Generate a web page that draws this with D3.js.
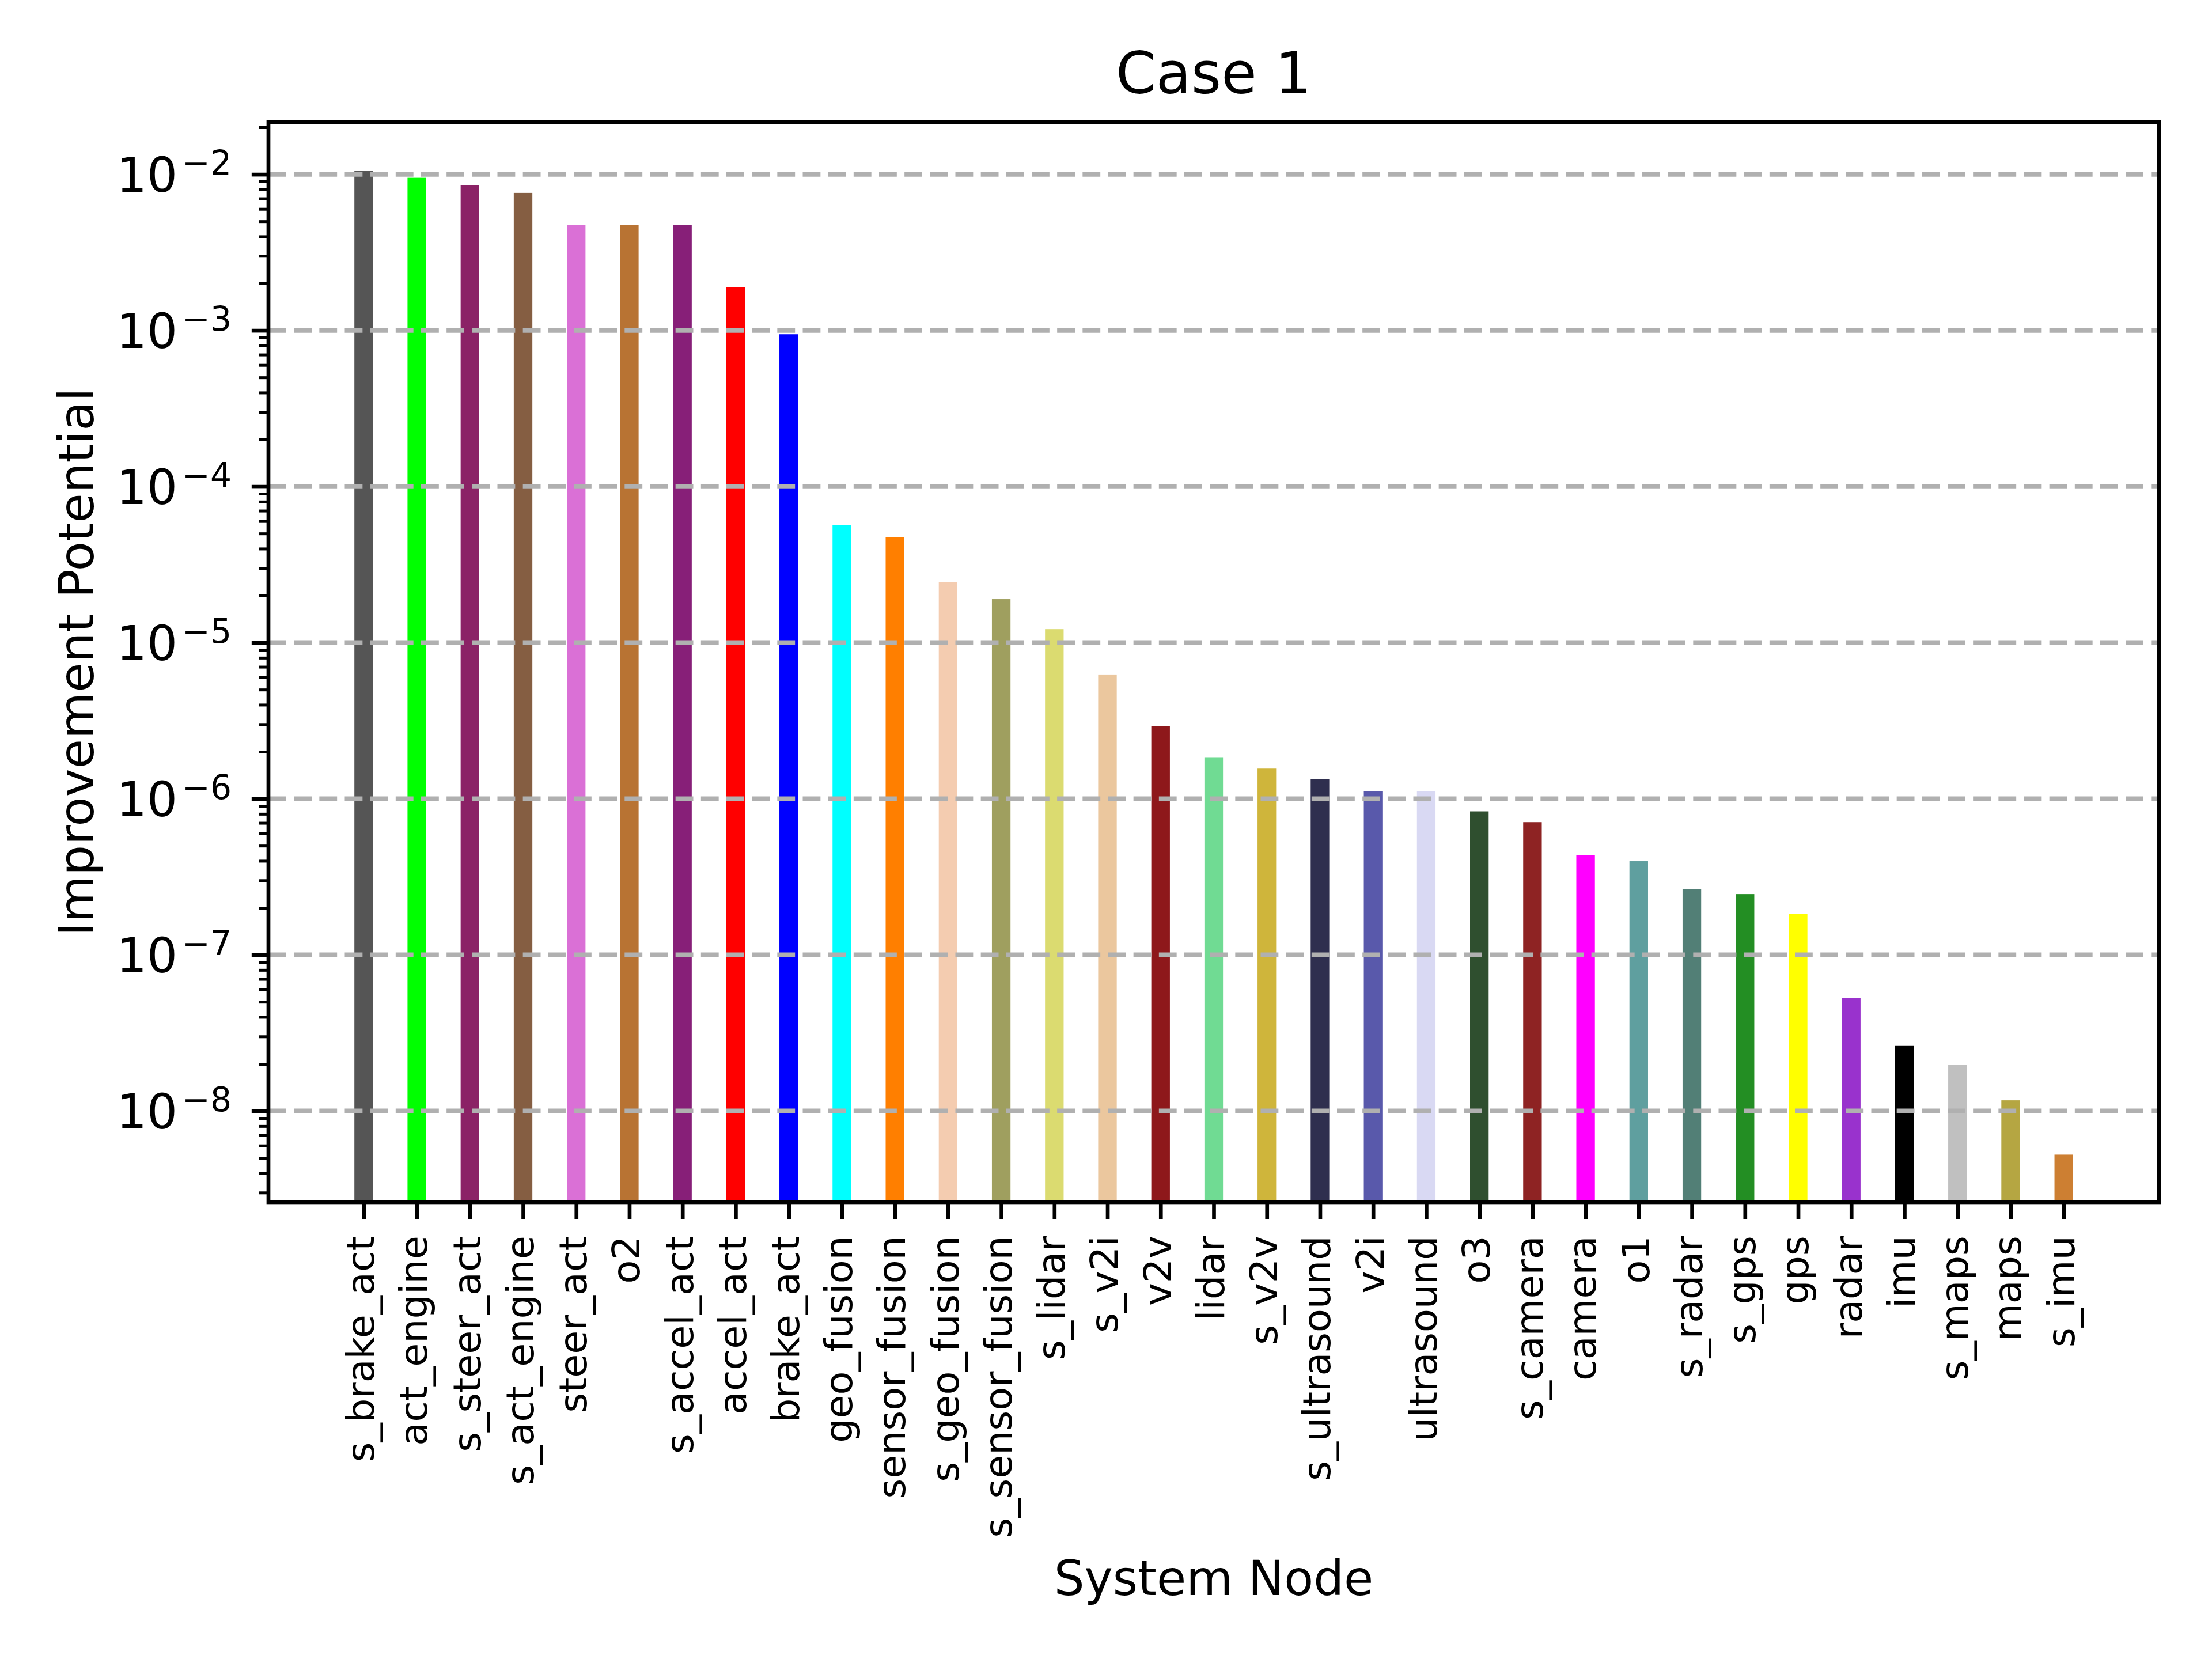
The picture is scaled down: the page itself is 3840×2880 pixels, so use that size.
<!DOCTYPE html>
<html>
<head>
<meta charset="utf-8">
<script src="https://cdn.jsdelivr.net/npm/d3@7"></script>
<style>
  body { margin: 0; background: #ffffff; }
  svg { display: block; font-family: "DejaVu Sans", sans-serif; }
</style>
</head>
<body>
<div id="chart"></div>
<script>
// Node names, in plotted order
const categories = [
    "s_brake_act", "act_engine", "s_steer_act", "s_act_engine", "steer_act", "o2",
    "s_accel_act", "accel_act", "brake_act", "geo_fusion", "sensor_fusion", "s_geo_fusion",
    "s_sensor_fusion", "s_lidar", "s_v2i", "v2v", "lidar", "s_v2v", "s_ultrasound", "v2i",
    "ultrasound", "o3", "s_camera", "camera", "o1", "s_radar", "s_gps", "gps", "radar",
    "imu", "s_maps", "maps", "s_imu"
];

// Improvement potential per node
const values = [
    1.05e-2, 9.5e-3, 8.55e-3, 7.6e-3, 4.72e-3, 4.72e-3,
    4.72e-3, 1.89e-3, 9.45e-4, 5.67e-5, 4.74e-5, 2.44e-5,
    1.9e-5, 1.22e-5, 6.25e-6, 2.91e-6, 1.83e-6, 1.56e-6, 1.34e-6, 1.12e-6,
    1.12e-6, 8.3e-7, 7.08e-7, 4.35e-7, 3.98e-7, 2.64e-7, 2.45e-7, 1.83e-7, 5.28e-8,
    2.63e-8, 1.98e-8, 1.17e-8, 5.25e-9
];

// One colour per bar
const barColors = [
    "#555555", "#00FF00", "#8B2266", "#855E42", "#DA70D6", "#B87333",
    "#871F78", "#FF0000", "#0000FF", "#00FFFF", "#FF7F00", "#F4CCB0",
    "#9F9F5F", "#DBDB70", "#EBC79E", "#8E181B", "#70DB93", "#CFB53B", "#2F2F4F", "#5959AB",
    "#D9D9F3", "#2F4F2F", "#8E2323", "#FF00FF", "#5F9F9F", "#527F76", "#238E23", "#FFFF00", "#9932CD",
    "#000000", "#C0C0C0", "#B5A642", "#CD7F32"
];

// Major y ticks (decade exponents)
const yExponents = [-8, -7, -6, -5, -4, -3, -2];

// Figure is 6.4 x 4.8 in at 600 dpi
const width = 3840;
const height = 2880;
const pt = 600 / 72;
const margin = { top: 212, right: 3840 - 3748, bottom: 2880 - 2087, left: 466 };
const plotW = width - margin.left - margin.right;
const plotH = height - margin.top - margin.bottom;

const svg = d3.select("#chart")
    .append("svg")
    .attr("width", width)
    .attr("height", height);

const g = svg.append("g")
    .attr("transform", `translate(${margin.left},${margin.top})`);

// Scales: bar index on x (matplotlib-style 5% margins), log on y
const barWidth = 0.35;
const n = categories.length;
const pad = 0.05 * (n - 1 + barWidth);
const x = d3.scaleLinear()
    .domain([-barWidth / 2 - pad, n - 1 + barWidth / 2 + pad])
    .range([0, plotW]);

const y = d3.scaleLog()
    .domain([2.603e-9, 2.159e-2])
    .range([plotH, 0]);

// Bars, running down to the bottom of the axes
g.append("g")
    .selectAll("rect")
    .data(values)
    .join("rect")
    .attr("x", (d, i) => x(i - barWidth / 2))
    .attr("width", x(barWidth) - x(0))
    .attr("y", d => y(d))
    .attr("height", d => plotH - y(d))
    .attr("fill", (d, i) => barColors[i]);

// Dashed horizontal grid at the decades, drawn over the bars
const majors = yExponents.map(e => Math.pow(10, e));
g.append("g")
    .selectAll("line")
    .data(majors)
    .join("line")
    .attr("x1", 0)
    .attr("x2", plotW)
    .attr("y1", d => y(d))
    .attr("y2", d => y(d))
    .attr("stroke", "#b0b0b0")
    .attr("stroke-width", 1 * pt)
    .attr("stroke-dasharray", `${3.7 * pt} ${1.6 * pt}`);

// Minor log ticks (2..9 in each decade that falls in range)
const minors = [];
for (let e = -9; e <= -2; e++) {
    for (let m = 2; m <= 9; m++) {
        const v = m * Math.pow(10, e);
        if (v >= y.domain()[0] && v <= y.domain()[1]) minors.push(v);
    }
}

const yMinor = g.append("g")
    .call(d3.axisLeft(y).tickValues(minors).tickSize(2 * pt).tickFormat(() => ""));
yMinor.select(".domain").remove();
yMinor.selectAll("line").attr("stroke", "#000").attr("stroke-width", 0.6 * pt);

const yMajor = g.append("g")
    .call(d3.axisLeft(y).tickValues(majors).tickSize(3.5 * pt).tickFormat(() => ""));
yMajor.select(".domain").remove();
yMajor.selectAll("line").attr("stroke", "#000").attr("stroke-width", 0.8 * pt);

// Y tick labels as 10 with a superscript exponent
const yLabelSize = 10 * pt;
const yLabels = g.append("g")
    .selectAll("text")
    .data(yExponents)
    .join("text")
    .attr("x", -64)
    .attr("y", e => y(Math.pow(10, e)) + 30)
    .attr("text-anchor", "end")
    .attr("fill", "#000")
    .style("font-size", `${yLabelSize}px`);

yLabels.append("tspan").text("10");
yLabels.append("tspan")
    .attr("dx", 8)
    .attr("dy", -30)
    .style("font-size", `${yLabelSize * 0.7}px`)
    .text(e => "\u2212" + Math.abs(e));

// X axis with rotated node names
const xAxis = g.append("g")
    .attr("transform", `translate(0,${plotH})`)
    .call(d3.axisBottom(x).tickValues(d3.range(n)).tickSize(3.5 * pt).tickFormat(i => categories[i]));
xAxis.select(".domain").remove();
xAxis.selectAll("line").attr("stroke", "#000").attr("stroke-width", 0.8 * pt);
xAxis.selectAll("text")
    .attr("transform", "rotate(-90)")
    .attr("x", -(7 * pt))
    .attr("y", 0)
    .attr("dy", "0.26em")
    .attr("text-anchor", "end")
    .attr("fill", "#000")
    .style("font-size", `${8 * pt}px`)
    .style("font-family", "DejaVu Sans, sans-serif");

// Axes frame
g.append("rect")
    .attr("x", 0)
    .attr("y", 0)
    .attr("width", plotW)
    .attr("height", plotH)
    .attr("fill", "none")
    .attr("stroke", "#000")
    .attr("stroke-width", 0.8 * pt);

// Title and axis titles
svg.append("text")
    .attr("x", margin.left + plotW / 2)
    .attr("y", 162)
    .attr("text-anchor", "middle")
    .style("font-size", `${12 * pt}px`)
    .text("Case 1");

svg.append("text")
    .attr("x", margin.left + plotW / 2)
    .attr("y", 2769)
    .attr("text-anchor", "middle")
    .style("font-size", `${10 * pt}px`)
    .text("System Node");

svg.append("text")
    .attr("transform", `translate(162,${margin.top + plotH / 2}) rotate(-90)`)
    .attr("text-anchor", "middle")
    .style("font-size", `${10 * pt}px`)
    .text("Improvement Potential");
</script>
</body>
</html>
